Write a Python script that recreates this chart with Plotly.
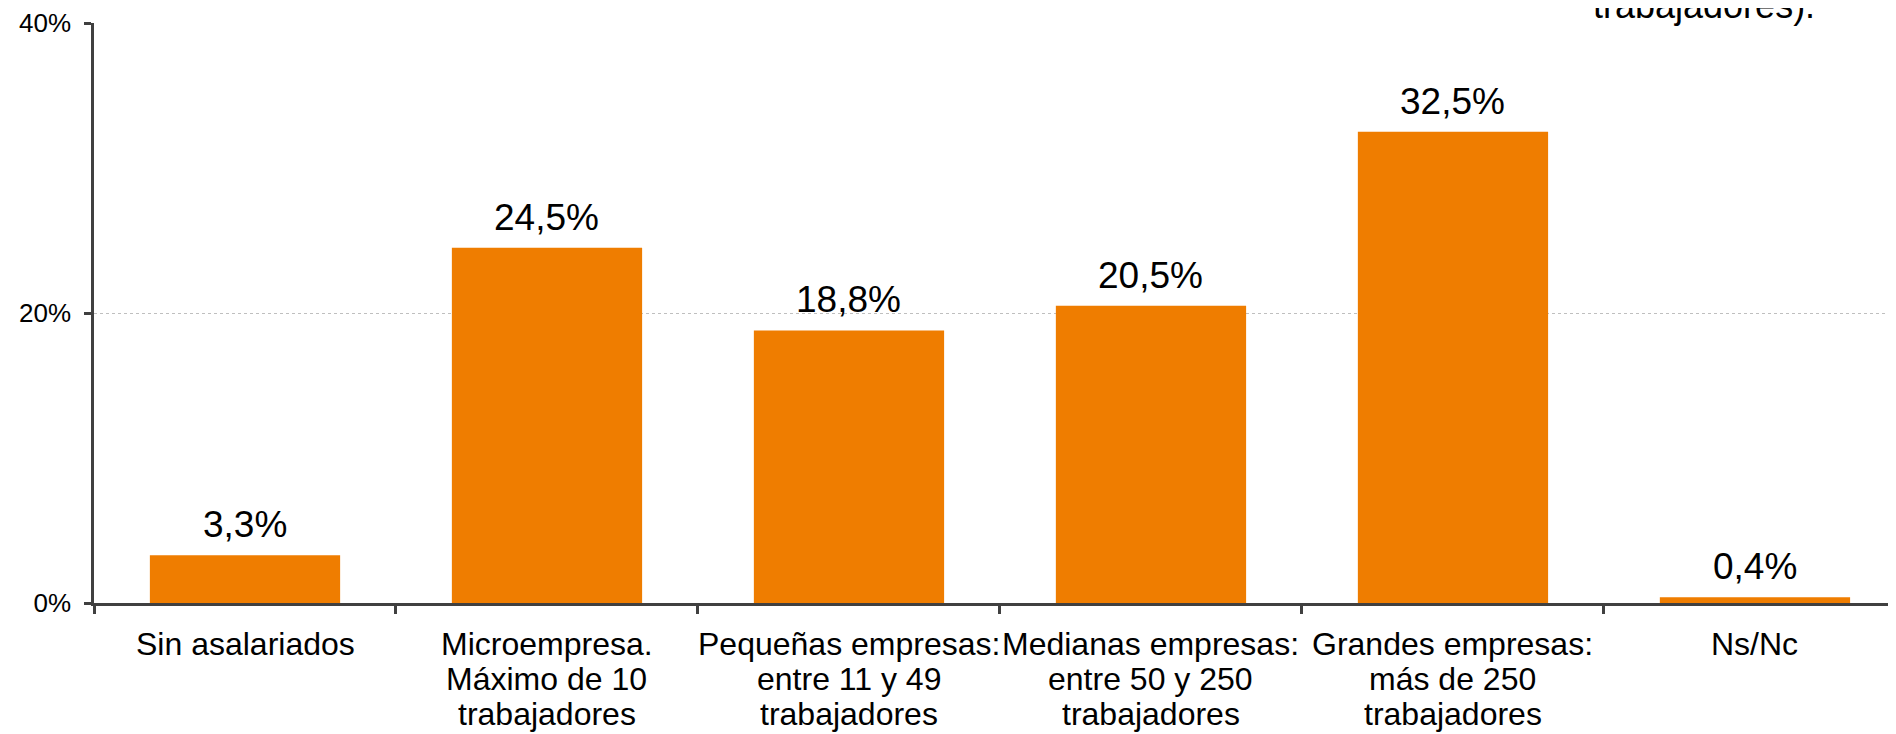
import plotly.graph_objects as go

categories = [
    "Sin asalariados",
    "Microempresa.<br>Máximo de 10<br>trabajadores",
    "Pequeñas empresas:<br>entre 11 y 49<br>trabajadores",
    "Medianas empresas:<br>entre 50 y 250<br>trabajadores",
    "Grandes empresas:<br>más de 250<br>trabajadores",
    "Ns/Nc",
]
values = [3.3, 24.5, 18.8, 20.5, 32.5, 0.4]
value_labels = ["3,3%", "24,5%", "18,8%", "20,5%", "32,5%", "0,4%"]
y_ticks = [0, 20, 40]
y_tick_labels = ["0%", "20%", "40%"]
title_fragment = "trabajadores)."

FONT = "Arial, 'Liberation Sans', sans-serif"
BAR = "#EF7D00"
AXIS = "#404040"

fig = go.Figure()
fig.add_trace(go.Bar(
    x=categories, y=values, marker=dict(color=BAR, line=dict(width=0)),
    width=0.63, hoverinfo="skip",
))

annotations = []
# value labels
for c, v, t in zip(categories, values, value_labels):
    annotations.append(dict(
        x=c, y=v, xref="x", yref="y", text=t, showarrow=False,
        xanchor="center", yanchor="bottom", yshift=8,
        font=dict(family=FONT, size=37, color="black"),
    ))
# category labels (line by line, tight line spacing)
for c in categories:
    for i, line in enumerate(c.split("<br>")):
        annotations.append(dict(
            x=c, y=0, xref="x", yref="paper", text=line, showarrow=False,
            xanchor="center", yanchor="middle", yshift=-(41 + 35 * i),
            font=dict(family=FONT, size=32, color="black"),
        ))
# partially visible title
annotations.append(dict(
    x=0.956, y=1.031, xref="paper", yref="paper", text=title_fragment,
    showarrow=False, xanchor="right", yanchor="middle",
    font=dict(family=FONT, size=36, color="black"),
))

fig.update_layout(
    width=1888, height=726,
    margin=dict(l=86, r=0, t=15, b=131),
    plot_bgcolor="white", paper_bgcolor="white",
    showlegend=False,
    bargap=0.37,
    annotations=annotations,
    shapes=[dict(
        type="rect", xref="paper", yref="paper",
        x0=0.6132, x1=1.0, y0=0.9948, y1=1.05,
        fillcolor="white", line=dict(width=0), layer="above",
    )],
    xaxis=dict(
        type="category", range=[-0.5, 5.467],
        showticklabels=False, ticks="outside", tickson="boundaries",
        ticklen=8, tickwidth=2.5, tickcolor=AXIS,
        showline=True, linecolor=AXIS, linewidth=2.5,
        showgrid=False, zeroline=False, fixedrange=True,
    ),
    yaxis=dict(
        range=[0, 40], tickvals=y_ticks, ticktext=y_tick_labels,
        ticks="outside", ticklen=7, tickwidth=2.5, tickcolor=AXIS,
        ticklabelstandoff=8,
        tickfont=dict(family=FONT, size=26, color="black"),
        showline=True, linecolor=AXIS, linewidth=2.5,
        showgrid=True, gridcolor="#BFBFBF", gridwidth=1, griddash="dot",
        zeroline=False, fixedrange=True,
    ),
)

fig.write_html("out.html")
